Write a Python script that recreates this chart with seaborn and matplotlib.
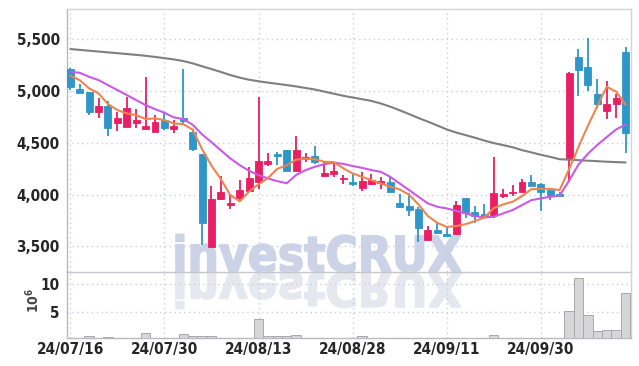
import numpy as np
import pandas as pd
import matplotlib
matplotlib.use("Agg")
import matplotlib.pyplot as plt
import seaborn as sns
from matplotlib.textpath import TextPath
from matplotlib.patches import PathPatch
from matplotlib.font_manager import FontProperties
from matplotlib.transforms import Affine2D
from matplotlib.ticker import FuncFormatter

# 일봉 데이터 (24/07/16 ~ 24/10/16, 60 거래일)
opens = [5213, 5020, 4990, 4800, 4855, 4694, 4655, 4694, 4636, 4607,
         4720, 4633, 4737, 4604, 4392, 3496, 3954, 3902, 3970, 4037,
         4124, 4295, 4389, 4430, 4230, 4340, 4372, 4179, 4198, 4147,
         4124, 4066, 4099, 4114, 4124, 3921, 3889, 3863, 3558, 3657,
         3616, 3622, 3964, 3831, 3809, 3800, 3989, 4012, 4027, 4118,
         4102, 4044, 4005, 4340, 5331, 5235, 4971, 4807, 4872, 5374]
highs = [5220, 5065, 4995, 4935, 4905, 4800, 4945, 4823, 5133, 4770,
         4800, 4720, 5210, 4630, 4395, 4083, 4179, 4002, 4140, 4270,
         4945, 4398, 4414, 4432, 4565, 4404, 4469, 4314, 4314, 4189,
         4205, 4215, 4195, 4172, 4172, 4005, 4012, 3877, 3696, 3728,
         3690, 3940, 3966, 3889, 3908, 4360, 4050, 4092, 4147, 4189,
         4110, 4046, 4027, 5180, 5406, 5509, 5113, 5097, 4971, 5428]
lows = [5010, 4980, 4765, 4740, 4570, 4615, 4650, 4640, 4636, 4605,
        4623, 4600, 4690, 4423, 3512, 3496, 3950, 3860, 3947, 4035,
        4050, 4278, 4285, 4228, 4228, 4314, 4295, 4172, 4166, 4102,
        4083, 4034, 4090, 4053, 4025, 3880, 3793, 3542, 3555, 3624,
        3600, 3620, 3770, 3722, 3770, 3770, 3970, 3985, 4025, 4083,
        3841, 3947, 3980, 4124, 4953, 5000, 4833, 4727, 4736, 4398]
closes = [5036, 4985, 4800, 4855, 4645, 4740, 4836, 4723, 4662, 4700,
          4646, 4665, 4713, 4437, 3722, 3957, 4022, 3915, 4044, 4157,
          4324, 4324, 4372, 4230, 4430, 4366, 4317, 4211, 4230, 4160,
          4099, 4134, 4140, 4128, 4027, 3883, 3851, 3680, 3657, 3626,
          3602, 3896, 3819, 3796, 3786, 4012, 4008, 4027, 4118, 4085,
          4027, 3989, 3986, 5177, 5203, 5061, 4875, 4875, 4930, 4597]

# 이동평균선
ma5 = [5148, 5106, 5026, 4978, 4875, 4817, 4785, 4768, 4730, 4736,
       4720, 4688, 4681, 4628, 4440, 4280, 4150, 3996, 3935, 4030,
       4100, 4160, 4250, 4283, 4338, 4347, 4343, 4317, 4314, 4255,
       4205, 4172, 4140, 4108, 4076, 4050, 4000, 3905, 3793, 3728,
       3688, 3696, 3715, 3744, 3780, 3870, 3906, 3931, 3986, 4053,
       4056, 4056, 4044, 4245, 4460, 4665, 4855, 5042, 4995, 4870]
ma10 = [5187, 5177, 5138, 5106, 5058, 5010, 4962, 4913, 4865, 4826,
        4791, 4746, 4730, 4675, 4582, 4507, 4428, 4350, 4285, 4230,
        4189, 4157, 4130, 4110, 4190, 4237, 4269, 4295, 4308, 4298,
        4276, 4259, 4237, 4220, 4172, 4108, 4044, 3979, 3915, 3883,
        3867, 3844, 3819, 3793, 3780, 3786, 3819, 3851, 3899, 3947,
        3964, 3979, 3990, 4135, 4290, 4395, 4480, 4555, 4630, 4676]
ma_long = [5406, 5398, 5390, 5382, 5374, 5366, 5358, 5350, 5341, 5330,
           5318, 5306, 5290, 5268, 5240, 5213, 5185, 5155, 5130, 5110,
           5095, 5082, 5070, 5058, 5045, 5030, 5015, 4995, 4975, 4955,
           4938, 4922, 4905, 4880, 4850, 4815, 4778, 4740, 4705, 4668,
           4630, 4600, 4575, 4550, 4522, 4498, 4478, 4458, 4430, 4408,
           4385, 4365, 4342, 4338, 4333, 4328, 4323, 4318, 4314, 4311]

# 거래량 (단위 10^6)
volume = [0.2, 0.2, 0.6, 0.2, 0.5, 0.2, 0.2, 0.2, 1.15, 0.2,
          0.2, 0.2, 1.0, 0.6, 0.6, 0.6, 0.2, 0.2, 0.2, 0.2,
          3.6, 0.55, 0.55, 0.55, 0.8, 0.2, 0.2, 0.2, 0.2, 0.2,
          0.2, 0.6, 0.2, 0.2, 0.2, 0.2, 0.2, 0.2, 0.2, 0.2,
          0.2, 0.2, 0.2, 0.2, 0.2, 0.8, 0.2, 0.2, 0.2, 0.2,
          0.2, 0.2, 0.2, 5.1, 11.1, 4.4, 1.5, 1.7, 1.7, 8.4]

tick_idx = [0, 10, 20, 30, 40, 50]
tick_labels = ["24/07/16", "24/07/30", "24/08/13", "24/08/28", "24/09/11", "24/09/30"]

df = pd.DataFrame({"o": opens, "h": highs, "l": lows, "c": closes,
                   "ma5": ma5, "ma10": ma10, "ma_long": ma_long, "vol": volume})
df["idx"] = np.arange(len(df))

UP = "#e91e63"
DOWN = "#2e96c8"
GRID = "#c9cde0"
TXT = "#262626"

sns.set_theme(style="white")
plt.rcParams["font.family"] = ["DejaVu Sans"]
plt.rcParams["font.stretch"] = "condensed"
plt.rcParams["font.weight"] = "bold"

fig = plt.figure(figsize=(6.39, 3.66), dpi=100)
fig.patch.set_facecolor("white")
ax_p = fig.add_axes([0.1044, 0.256, 0.8826, 0.7186])
ax_v = fig.add_axes([0.1044, 0.0773, 0.8826, 0.1787])
for ax in (ax_p, ax_v):
    ax.set_facecolor("none")

# 워터마크 (investCRUX + 반사)
fp = FontProperties(family="DejaVu Sans", weight="bold")
tp = TextPath((0, 0), "investCRUX", size=1, prop=fp)
bb = tp.get_extents()
wm_left, wm_w, wm_h = 176 / 639, 285 / 639, 38 / 366
base = 0.256
sx, sy = wm_w / bb.width, wm_h / bb.height
tr_up = Affine2D().translate(-bb.x0, -bb.y0).scale(sx, sy).translate(wm_left, base)
tr_dn = Affine2D().translate(-bb.x0, -bb.y0).scale(sx, -sy * 0.95).translate(wm_left, base)
fig.patches.append(PathPatch(tp, transform=tr_up + fig.transFigure, fc="#cdd3e7", ec="#cdd3e7", lw=1.2, zorder=-5))
fig.patches.append(PathPatch(tp, transform=tr_dn + fig.transFigure, fc="#e6e8f0", ec="#e6e8f0", lw=1.2, zorder=-5))

# 캔들
up = df["c"] >= df["o"]
colors = np.where(up, UP, DOWN)
ax_p.vlines(df["idx"], df["l"], df["h"], colors=colors, linewidth=1.3, zorder=3)
body_lo = np.minimum(df["o"], df["c"])
body_h = (df["o"] - df["c"]).abs()
ax_p.bar(df["idx"], body_h, bottom=body_lo, width=0.74, color=colors,
         edgecolor=colors, linewidth=0.6, zorder=3)

# 이동평균선
sns.lineplot(data=df, x="idx", y="ma_long", color="#7f7f7f", linewidth=1.5, ax=ax_p, zorder=4)
sns.lineplot(data=df, x="idx", y="ma10", color="#c95ae8", linewidth=1.5, ax=ax_p, zorder=4)
sns.lineplot(data=df, x="idx", y="ma5", color="#ee8550", linewidth=1.5, ax=ax_p, zorder=4)

# 거래량
sns.barplot(data=df, x="idx", y="vol", width=1.0, color="#d6d6d8", saturation=1,
            edgecolor="#a9a9ad", linewidth=0.7, ax=ax_v, zorder=3)

xlim = (-0.38, 59.55)
for ax in (ax_p, ax_v):
    ax.set_xlim(*xlim)
    ax.set_xticks(tick_idx)
    ax.grid(True, axis="both", linestyle=(0, (1, 2.5)), color=GRID, linewidth=1.0, zorder=0)
    ax.tick_params(length=0, labelsize=11, colors=TXT, pad=5)
    ax.set_xlabel("")
    ax.set_ylabel("")
    for s in ax.spines.values():
        s.set_color("#d4d4d8")
        s.set_linewidth(1.0)
    ax.spines["left"].set_color("#b9b9be")

ax_p.set_ylim(3250, 5790)
ax_p.set_yticks([3500, 4000, 4500, 5000, 5500])
ax_p.yaxis.set_major_formatter(FuncFormatter(lambda v, p: f"{int(v):,}"))
ax_p.tick_params(axis="x", labelbottom=False)
ax_p.spines["bottom"].set_color("#c6c6cc")

ax_v.set_ylim(0.31, 12.1)
ax_v.set_yticks([5, 10])
ax_v.set_yticklabels(["5", "10"])
ax_v.set_xticklabels(tick_labels)
ax_v.tick_params(axis="x", pad=3)
ax_v.spines["top"].set_visible(False)
ax_v.spines["bottom"].set_color("#b9b9be")
fig.text(0.051, 0.178, "$10^6$", rotation=90, ha="center", va="center",
         fontsize=10, color="#444444")

fig.savefig("out.png", dpi=100)
